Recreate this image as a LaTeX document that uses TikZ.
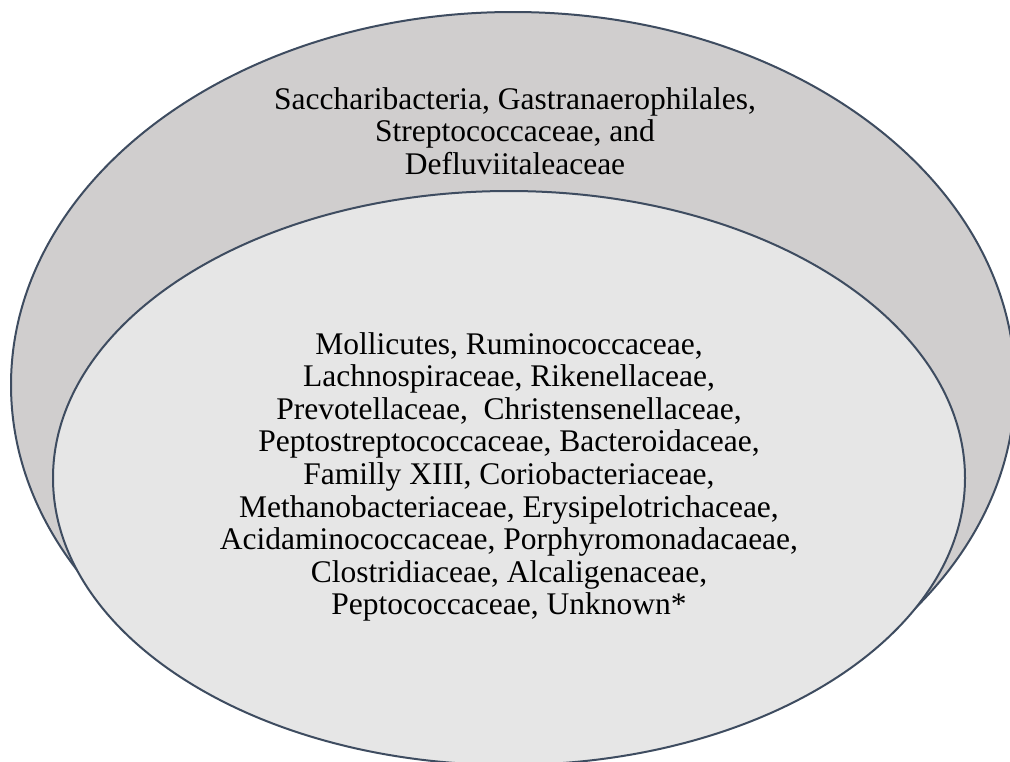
\documentclass[tikz,border=0pt]{standalone}
\usepackage{fontspec}
\setmainfont{Liberation Serif}
\definecolor{edgec}{HTML}{3E4C60}
\definecolor{outerfill}{HTML}{D0CECE}
\definecolor{innerfill}{HTML}{E6E6E6}
\tikzset{
  ring/.style={draw=edgec, line width=2pt},
  label/.style={align=center, font=\fontsize{31.5}{32.6}\selectfont, text=black, inner sep=0pt},
}
\begin{document}
\begin{tikzpicture}[x=1pt,y=-1pt]
\useasboundingbox (0,0) rectangle (1010,761);
\fill[white] (0,0) rectangle (1010,761);
\draw[ring, fill=outerfill] (513,385) ellipse [x radius=502, y radius=373];
\draw[ring, fill=innerfill] (509,478) ellipse [x radius=456, y radius=287];
\node[label] (outertext) at (515,131) {Saccharibacteria, Gastranaerophilales,\\Streptococcaceae, and\\Defluviitaleaceae};
\node[label] (innertext) at (509,477) {Mollicutes, Ruminococcaceae,\\Lachnospiraceae, Rikenellaceae,\\Prevotellaceae,\ \ Christensenellaceae,\\Peptostreptococcaceae, Bacteroidaceae,\\Familly XIII, Coriobacteriaceae,\\Methanobacteriaceae, Erysipelotrichaceae,\\Acidaminococcaceae, Porphyromonadacaeae,\\Clostridiaceae, Alcaligenaceae,\\Peptococcaceae, Unknown*};
\end{tikzpicture}
\end{document}
